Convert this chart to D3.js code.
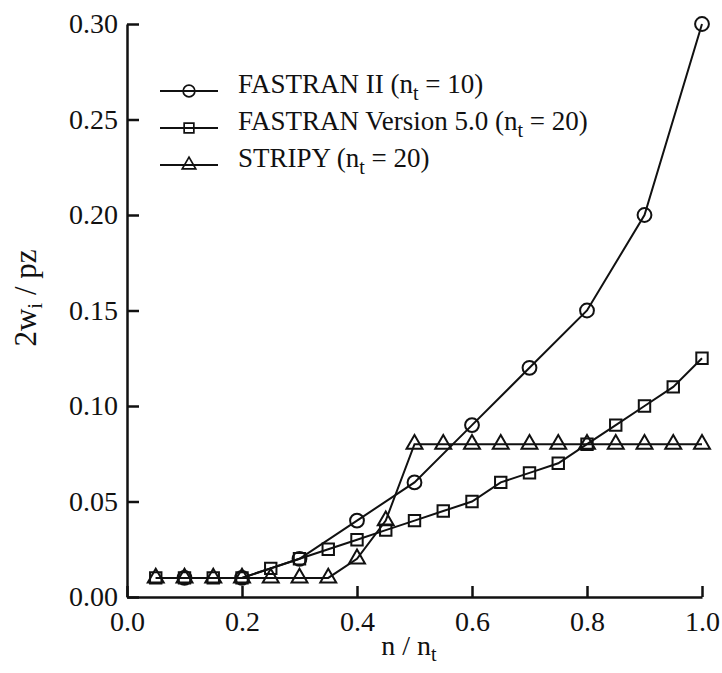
<!DOCTYPE html>
<html lang="en">
<head>
    <meta charset="UTF-8">
    <title>Effective width vs n / nt</title>
    <script src="https://d3js.org/d3.v7.min.js"></script>
    <style>
        body { margin: 0; background: #fff; }
        svg { display: block; }
        text { font-family: "Liberation Serif", "Times New Roman", serif; fill: #111; }
        .axis path, .axis line { stroke: #111; stroke-width: 2.5px; }
        .axis text { font-size: 28px; font-family: "Liberation Serif", "Times New Roman", serif; }
        .series path { fill: none; stroke: #111; stroke-width: 2px; }
        .marker { fill: #fff; stroke: #111; stroke-width: 2px; }
    </style>
</head>
<body>
    <svg width="722" height="673"></svg>

    <script>
        // values
        const fastranX = [0.1, 0.2, 0.3, 0.4, 0.5, 0.6, 0.7, 0.8, 0.9, 1.0];
        const fastranY = [0.01, 0.01, 0.02, 0.04, 0.06, 0.09, 0.12, 0.15, 0.20, 0.30];

        const v5X = [0.05, 0.10, 0.15, 0.20, 0.25, 0.30, 0.35, 0.40, 0.45, 0.50,
                     0.55, 0.60, 0.65, 0.70, 0.75, 0.80, 0.85, 0.90, 0.95, 1.00];
        const v5Y = [0.01, 0.01, 0.01, 0.01, 0.015, 0.02, 0.025, 0.03, 0.035, 0.04,
                     0.045, 0.05, 0.06, 0.065, 0.07, 0.08, 0.09, 0.10, 0.11, 0.125];

        const stripyX = v5X;
        const stripyY = [0.01, 0.01, 0.01, 0.01, 0.01, 0.01, 0.01, 0.02, 0.04, 0.08,
                         0.08, 0.08, 0.08, 0.08, 0.08, 0.08, 0.08, 0.08, 0.08, 0.08];

        const xTicks = [0.0, 0.2, 0.4, 0.6, 0.8, 1.0];
        const yTicks = [0.00, 0.05, 0.10, 0.15, 0.20, 0.25, 0.30];

        const legendNames = ["FASTRAN II (", "FASTRAN Version 5.0 (", "STRIPY ("];
        const legendNt = [" = 10)", " = 20)", " = 20)"];

        const svg = d3.select("svg");

        const x = d3.scaleLinear().domain([0, 1]).range([127, 702]);
        const y = d3.scaleLinear().domain([0, 0.3]).range([597, 24]);

        // axes, ticks pointing inward
        svg.append("g")
            .attr("class", "axis")
            .attr("transform", "translate(0,597)")
            .call(d3.axisBottom(x).tickValues(xTicks).tickFormat(d3.format(".1f"))
                .tickSizeInner(-11).tickSizeOuter(0).tickPadding(14));

        svg.append("g")
            .attr("class", "axis")
            .attr("transform", "translate(127,0)")
            .call(d3.axisLeft(y).tickValues(yTicks).tickFormat(d3.format(".2f"))
                .tickSizeInner(-12).tickSizeOuter(0).tickPadding(9));

        // axis titles
        const xt = svg.append("text")
            .attr("x", 409).attr("y", 655)
            .attr("text-anchor", "middle")
            .style("font-size", "28px");
        xt.append("tspan").text("n / n");
        xt.append("tspan").attr("dy", 6).style("font-size", "20px").text("t");

        const yt = svg.append("text")
            .attr("transform", "translate(36,298) rotate(-90)")
            .attr("text-anchor", "middle")
            .style("font-size", "31px");
        yt.append("tspan").text("2w");
        yt.append("tspan").attr("dy", 6).style("font-size", "21px").text("i");
        yt.append("tspan").attr("dy", -6).text(" / pz");

        const line = d3.line().x(d => x(d[0])).y(d => y(d[1]));

        const circleSym = d3.symbol().type(d3.symbolCircle).size(150);
        const squareSym = d3.symbol().type(d3.symbolSquare).size(130);
        const triSym = d3.symbol().type(d3.symbolTriangle).size(110);

        const series = [
            { pts: d3.zip(fastranX, fastranY), sym: circleSym },
            { pts: d3.zip(v5X, v5Y), sym: squareSym },
            { pts: d3.zip(stripyX, stripyY), sym: triSym }
        ];

        series.forEach(s => {
            const g = svg.append("g").attr("class", "series");
            g.append("path").attr("d", line(s.pts));
            g.selectAll("path.marker")
                .data(s.pts)
                .enter().append("path")
                .attr("class", "marker")
                .attr("d", s.sym)
                .attr("transform", d => `translate(${x(d[0])},${y(d[1])})`);
        });

        // legend
        const legendY = [91, 128, 165];
        series.forEach((s, i) => {
            const g = svg.append("g").attr("class", "series")
                .attr("transform", `translate(0,${legendY[i]})`);
            g.append("path").attr("d", "M160,0H218");
            g.append("path").attr("class", "marker")
                .attr("d", s.sym)
                .attr("transform", "translate(189,0) scale(0.85)");
            const t = g.append("text")
                .attr("x", 238).attr("y", 2)
                .style("font-size", "27px");
            t.append("tspan").text(legendNames[i] + "n");
            t.append("tspan").attr("dy", 7).style("font-size", "20px").text("t");
            t.append("tspan").attr("dy", -7).text(legendNt[i]);
        });
    </script>
</body>
</html>
